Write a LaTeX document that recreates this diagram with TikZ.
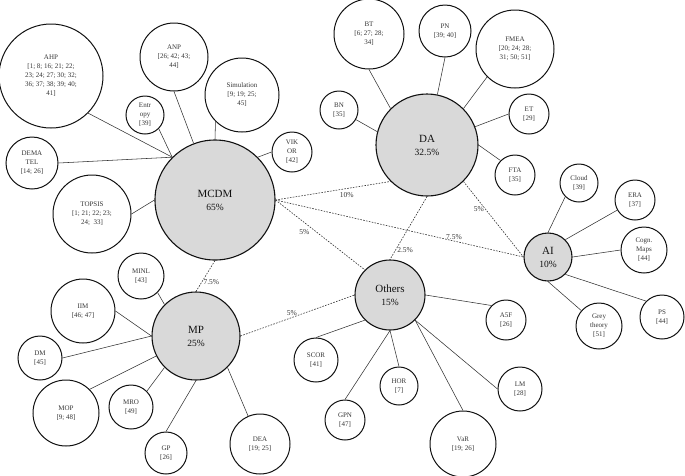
\documentclass[tikz,border=0pt]{standalone}
\usepackage{fontspec}
\setmainfont{Liberation Serif}
\usepackage{xcolor}
\usepackage{tikz}
\usetikzlibrary{positioning}
\definecolor{mapInk}{HTML}{111111}
\definecolor{mapLine}{HTML}{333333}
\definecolor{hubFill}{HTML}{D9D9D9}
\tikzset{
  hubnode/.style={circle, draw=mapInk, line width=1.1pt, fill=hubFill, inner sep=0pt,
                  align=center, font=\fontsize{11}{13}\selectfont, text=mapInk},
  leafnode/.style={circle, draw=mapInk, line width=1pt, inner sep=0pt, align=center,
                   font=\fontsize{7}{9}\selectfont, text=mapInk!85},
  leafline/.style={line width=0.55pt, draw=mapLine},
  shareline/.style={line width=0.6pt, draw=mapLine, dash pattern=on 1.6pt off 1.3pt},
  sharetag/.style={font=\fontsize{7.5}{9}\selectfont, text=mapInk!85, inner sep=1.5pt},
}
\newcommand{\pct}[1]{\\{\fontsize{9.5}{11}\selectfont #1}}
\begin{document}
\begin{tikzpicture}[x=1pt, y=-1pt]
  \useasboundingbox (0,0) rectangle (685,475);
  % main groups
  \node[hubnode, minimum size=120pt] (mcdm) at (215,200) {MCDM\pct{65\%}};
  \node[hubnode, minimum size=102pt] (da) at (427,145) {DA\pct{32.5\%}};
  \node[hubnode, minimum size=48pt] (ai) at (548,257) {AI\pct{10\%}};
  \node[hubnode, minimum size=70pt] (others) at (390,295) {Others\pct{15\%}};
  \node[hubnode, minimum size=88pt] (mp) at (196,336) {MP\pct{25\%}};
  % MCDM methods
  \node[leafnode, minimum size=104pt] (ahp) at (51,76) {AHP\\{}[1; 8; 16; 21; 22;\\23; 24; 27; 30; 32;\\36; 37; 38; 39; 40;\\41]};
  \node[leafnode, minimum size=68pt] (anp) at (174,57) {ANP\\{}[26; 42; 43;\\44]};
  \node[leafnode, minimum size=38pt] (entropy) at (145,115) {Entr\\opy\\{}[39]};
  \node[leafnode, minimum size=74pt] (simul) at (242,95) {Simulation\\{}[9; 19; 25;\\45]};
  \node[leafnode, minimum size=40pt] (vikor) at (292,152) {VIK\\OR\\{}[42]};
  \node[leafnode, minimum size=52pt] (dematel) at (32,163) {DEMA\\TEL\\{}[14; 26]};
  \node[leafnode, minimum size=78pt] (topsis) at (92,214) {TOPSIS\\{}[1; 21; 22; 23;\\24;\ \ 33]};
  % DA methods
  \node[leafnode, minimum size=70pt] (bt) at (369,34) {BT\\{}[6; 27; 28;\\34]};
  \node[leafnode, minimum size=38pt] (bn) at (339,110) {BN\\{}[35]};
  \node[leafnode, minimum size=52pt] (pn) at (445,31) {PN\\{}[39; 40]};
  \node[leafnode, minimum size=78pt] (fmea) at (515,49) {FMEA\\{}[20; 24; 28;\\31; 50; 51]};
  \node[leafnode, minimum size=40pt] (et) at (529,114) {ET\\{}[29]};
  \node[leafnode, minimum size=40pt] (fta) at (515,175) {FTA\\{}[35]};
  % AI methods
  \node[leafnode, minimum size=38pt] (cloud) at (579,183) {Cloud\\{}[39]};
  \node[leafnode, minimum size=40pt] (era) at (635,200) {ERA\\{}[37]};
  \node[leafnode, minimum size=46pt] (cogn) at (644,250) {Cogn.\\Maps\\{}[44]};
  \node[leafnode, minimum size=44pt] (ps) at (662,317) {PS\\{}[44]};
  \node[leafnode, minimum size=46pt] (grey) at (599,326) {Grey\\theory\\{}[51]};
  % other methods
  \node[leafnode, minimum size=40pt] (asf) at (506,320) {A5F\\{}[26]};
  \node[leafnode, minimum size=44pt] (lm) at (520,389) {LM\\{}[28]};
  \node[leafnode, minimum size=66pt] (var) at (463,444) {VaR\\{}[19; 26]};
  \node[leafnode, minimum size=44pt] (scor) at (316,360) {SCOR\\{}[41]};
  \node[leafnode, minimum size=38pt] (hor) at (399,386) {HOR\\{}[7]};
  \node[leafnode, minimum size=40pt] (gpn) at (345,420) {GPN\\{}[47]};
  % MP methods
  \node[leafnode, minimum size=46pt] (minl) at (141,276) {MINL\\{}[43]};
  \node[leafnode, minimum size=64pt] (iim) at (83,311) {IIM\\{}[46; 47]};
  \node[leafnode, minimum size=44pt] (dm) at (40,358) {DM\\{}[45]};
  \node[leafnode, minimum size=66pt] (mop) at (66,413) {MOP\\{}[9; 48]};
  \node[leafnode, minimum size=44pt] (mro) at (131,407) {MRO\\{}[49]};
  \node[leafnode, minimum size=42pt] (gp) at (166,453) {GP\\{}[26]};
  \node[leafnode, minimum size=60pt] (dea) at (260,444) {DEA\\{}[19; 25]};
  % shares between groups
  \draw[shareline] (mcdm.east) -- node[sharetag, pos=0.62, below=2pt] {10\%} (da.south west);
  \draw[shareline] (mcdm.east) -- node[sharetag, pos=0.72, above] {7.5\%} (ai.west);
  \draw[shareline] (mcdm.east) -- node[sharetag, pos=0.4, below left] {5\%} (others.north west);
  \draw[shareline] (da.south) -- node[sharetag, pos=0.85, right] {2.5\%} (others.north);
  \draw[shareline] (da.south east) -- node[sharetag, pos=0.37, left] {5\%} (ai.west);
  \draw[shareline] (mcdm.south) -- node[sharetag, pos=0.7, right] {7.5\%} (mp.north);
  \draw[shareline] (mp.east) -- node[sharetag, pos=0.45, above] {5\%} (others.west);
  % MCDM links
  \draw[leafline] (ahp.south east) -- (mcdm.north west);
  \draw[leafline] (entropy.south east) -- (mcdm.north west);
  \draw[leafline] (dematel.east) -- (mcdm.north west);
  \draw[leafline] (anp.south) -- (mcdm);
  \draw[leafline] (simul.south west) -- (mcdm.north);
  \draw[leafline] (vikor.west) -- (mcdm.north east);
  \draw[leafline] (topsis.east) -- (mcdm.west);
  % DA links
  \draw[leafline] (bt.south) -- (da.north west);
  \draw[leafline] (bn) -- (da.165);
  \draw[leafline] (pn.south) -- (da);
  \draw[leafline] (fmea.south west) -- (da.north east);
  \draw[leafline] (et.west) -- (da);
  \draw[leafline] (da.east) -- (fta.north west);
  % AI links
  \draw[leafline] (cloud.south west) -- (ai.north);
  \draw[leafline] (era) -- (ai.north east);
  \draw[leafline] (cogn.west) -- (ai.east);
  \draw[leafline] (ps.north west) -- (ai.south east);
  \draw[leafline] (ai.south) -- (grey);
  % Others links
  \draw[leafline] (others.east) -- (asf.north west);
  \draw[leafline] (others.south west) -- (scor.north);
  \draw[leafline] (others.south) -- (hor.north);
  \draw[leafline] (others.south) -- (gpn.north);
  \draw[leafline] (others.south east) -- (var.north);
  \draw[leafline] (others.south east) -- (lm.west);
  % MP links
  \draw[leafline] (minl.south east) -- (mp.north west);
  \draw[leafline] (iim.east) -- (mp.west);
  \draw[leafline] (dm.east) -- (mp.west);
  \draw[leafline] (mop.north east) -- (mp);
  \draw[leafline] (mro.north east) -- (mp.south west);
  \draw[leafline] (gp.north) -- (mp.south);
  \draw[leafline] (dea) -- (mp.south east);
\end{tikzpicture}
\end{document}
